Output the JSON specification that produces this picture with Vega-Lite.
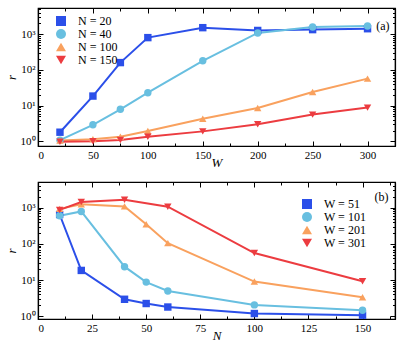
{
  "$schema": "https://vega.github.io/schema/vega-lite/v6.json",
  "background": "white",
  "padding": {"left": 4, "top": 6, "right": 23, "bottom": 1},
  "spacing": 10,
  "config": {
    "font": "Liberation Serif",
    "view": {"stroke": "black", "strokeWidth": 1.2},
    "axis": {"grid": false, "domainColor": "black", "domainWidth": 1.2, "tickColor": "black", "labelColor": "black", "labelFont": "Liberation Serif", "labelFontSize": 11, "titleFont": "Liberation Serif", "titleFontStyle": "italic", "titleFontWeight": "normal", "titleFontSize": 13, "titleColor": "black"},
    "legend": {"labelFont": "Liberation Serif", "labelFontSize": 12, "labelColor": "black"}
  },
  "datasets": {
    "a": [
      {"s": "N = 20", "W": 20, "r": 1.8}, {"s": "N = 20", "W": 50, "r": 18.5}, {"s": "N = 20", "W": 75, "r": 160}, {"s": "N = 20", "W": 100, "r": 800}, {"s": "N = 20", "W": 150, "r": 1520}, {"s": "N = 20", "W": 200, "r": 1270}, {"s": "N = 20", "W": 250, "r": 1340}, {"s": "N = 20", "W": 300, "r": 1420},
      {"s": "N = 40", "W": 20, "r": 1.08}, {"s": "N = 40", "W": 50, "r": 2.9}, {"s": "N = 40", "W": 75, "r": 7.9}, {"s": "N = 40", "W": 100, "r": 23}, {"s": "N = 40", "W": 150, "r": 180}, {"s": "N = 40", "W": 200, "r": 1080}, {"s": "N = 40", "W": 250, "r": 1590}, {"s": "N = 40", "W": 300, "r": 1700},
      {"s": "N = 100", "W": 20, "r": 1.05}, {"s": "N = 100", "W": 50, "r": 1.15}, {"s": "N = 100", "W": 75, "r": 1.35}, {"s": "N = 100", "W": 100, "r": 1.95}, {"s": "N = 100", "W": 150, "r": 4.3}, {"s": "N = 100", "W": 200, "r": 8.6}, {"s": "N = 100", "W": 250, "r": 24}, {"s": "N = 100", "W": 300, "r": 57},
      {"s": "N = 150", "W": 20, "r": 0.97}, {"s": "N = 150", "W": 50, "r": 1.0}, {"s": "N = 150", "W": 75, "r": 1.09}, {"s": "N = 150", "W": 100, "r": 1.35}, {"s": "N = 150", "W": 150, "r": 1.9}, {"s": "N = 150", "W": 200, "r": 3.0}, {"s": "N = 150", "W": 250, "r": 5.6}, {"s": "N = 150", "W": 300, "r": 8.8}
    ],
    "b": [
      {"s": "W = 51", "N": 10, "r": 650}, {"s": "W = 51", "N": 20, "r": 18.5}, {"s": "W = 51", "N": 40, "r": 2.95}, {"s": "W = 51", "N": 50, "r": 2.25}, {"s": "W = 51", "N": 60, "r": 1.8}, {"s": "W = 51", "N": 100, "r": 1.19}, {"s": "W = 51", "N": 150, "r": 1.07},
      {"s": "W = 101", "N": 10, "r": 600}, {"s": "W = 101", "N": 20, "r": 790}, {"s": "W = 101", "N": 40, "r": 23.5}, {"s": "W = 101", "N": 50, "r": 8.8}, {"s": "W = 101", "N": 60, "r": 5.0}, {"s": "W = 101", "N": 100, "r": 2.06}, {"s": "W = 101", "N": 150, "r": 1.47},
      {"s": "W = 201", "N": 10, "r": 930}, {"s": "W = 201", "N": 20, "r": 1240}, {"s": "W = 201", "N": 40, "r": 1090}, {"s": "W = 201", "N": 50, "r": 350}, {"s": "W = 201", "N": 60, "r": 105}, {"s": "W = 201", "N": 100, "r": 9.1}, {"s": "W = 201", "N": 150, "r": 3.35},
      {"s": "W = 301", "N": 10, "r": 870}, {"s": "W = 301", "N": 20, "r": 1440}, {"s": "W = 301", "N": 40, "r": 1660}, {"s": "W = 301", "N": 60, "r": 1070}, {"s": "W = 301", "N": 100, "r": 56}, {"s": "W = 301", "N": 150, "r": 9.3}
    ]
  },
  "vconcat": [
    {
      "width": 357, "height": 138,
      "data": {"name": "a"},
      "resolve": {"axis": {"x": "independent", "y": "independent"}, "scale": {"color": "independent", "shape": "independent", "stroke": "independent"}},
      "layer": [
        {
          "mark": {"type": "line", "strokeWidth": 2},
          "encoding": {
            "x": {"field": "W", "type": "quantitative", "scale": {"domain": [0, 325], "nice": false, "zero": false}, "title": "W",
              "axis": {"orient": "bottom", "values": [0, 25, 50, 75, 100, 125, 150, 175, 200, 225, 250, 275, 300, 325], "labelExpr": "datum.value % 50 == 0 ? datum.label : ''", "tickSize": {"condition": {"test": "datum.value % 50 == 0", "value": -5}, "value": -3}, "labelPadding": 8, "titlePadding": -4}},
            "y": {"field": "r", "type": "quantitative", "scale": {"type": "log", "domain": [0.74, 5400], "nice": false}, "title": "r",
              "axis": {"orient": "left", "values": [1, 2, 3, 4, 5, 6, 7, 8, 9, 10, 20, 30, 40, 50, 60, 70, 80, 90, 100, 200, 300, 400, 500, 600, 700, 800, 900, 1000, 2000, 3000, 4000, 5000], "labelExpr": "datum.value == 1 ? '10⁰' : datum.value == 10 ? '10¹' : datum.value == 100 ? '10²' : datum.value == 1000 ? '10³' : ''", "tickSize": {"condition": {"test": "indexof([1,10,100,1000], datum.value) >= 0", "value": -5}, "value": -2.5}, "labelPadding": 8, "titlePadding": 2}},
            "stroke": {"field": "s", "type": "nominal", "scale": {"domain": ["N = 20", "N = 40", "N = 100", "N = 150"], "range": ["#2b4fe9", "#68bfe0", "#f9a15e", "#ec3c40"]}, "legend": null}
          }
        },
        {
          "mark": {"type": "point", "filled": true, "opacity": 1, "size": 55},
          "encoding": {
            "x": {"field": "W", "type": "quantitative", "axis": {"orient": "top", "values": [0, 25, 50, 75, 100, 125, 150, 175, 200, 225, 250, 275, 300, 325], "labels": false, "title": null, "tickSize": {"condition": {"test": "datum.value % 50 == 0", "value": -5}, "value": -3}}},
            "y": {"field": "r", "type": "quantitative", "axis": {"orient": "right", "values": [1, 2, 3, 4, 5, 6, 7, 8, 9, 10, 20, 30, 40, 50, 60, 70, 80, 90, 100, 200, 300, 400, 500, 600, 700, 800, 900, 1000, 2000, 3000, 4000, 5000], "labels": false, "title": null, "tickSize": {"condition": {"test": "indexof([1,10,100,1000], datum.value) >= 0", "value": -5}, "value": -2.5}}},
            "color": {"field": "s", "type": "nominal", "scale": {"domain": ["N = 20", "N = 40", "N = 100", "N = 150"], "range": ["#2b4fe9", "#68bfe0", "#f9a15e", "#ec3c40"]},
              "legend": {"title": null, "orient": "top-left", "offset": 7, "padding": 0, "symbolOffset": 10, "labelOffset": 11, "rowPadding": 1, "encode": {"symbols": {"size": {"value": 64}}}}},
            "shape": {"field": "s", "type": "nominal", "scale": {"domain": ["N = 20", "N = 40", "N = 100", "N = 150"], "range": ["square", "circle", "triangle-up", "triangle-down"]},
              "legend": {"title": null, "orient": "top-left", "offset": 7, "padding": 0, "symbolOffset": 10, "labelOffset": 11, "rowPadding": 1, "encode": {"symbols": {"size": {"value": 64}}}}}
          }
        },
        {
          "data": {"values": [{"W": 320, "r": 1700, "t": "(a)"}]},
          "mark": {"type": "text", "align": "right", "fontSize": 12, "font": "Liberation Serif", "color": "black"},
          "encoding": {"x": {"field": "W", "type": "quantitative", "axis": null}, "y": {"field": "r", "type": "quantitative", "axis": null}, "text": {"field": "t"}}
        }
      ]
    },
    {
      "width": 357, "height": 137,
      "data": {"name": "b"},
      "resolve": {"axis": {"x": "independent", "y": "independent"}, "scale": {"color": "independent", "shape": "independent", "stroke": "independent"}},
      "layer": [
        {
          "mark": {"type": "line", "strokeWidth": 2},
          "encoding": {
            "x": {"field": "N", "type": "quantitative", "scale": {"domain": [0, 165], "nice": false, "zero": false}, "title": "N",
              "axis": {"orient": "bottom", "values": [0, 12.5, 25, 37.5, 50, 62.5, 75, 87.5, 100, 112.5, 125, 137.5, 150, 162.5], "labelExpr": "datum.value % 25 == 0 ? datum.label : ''", "tickSize": {"condition": {"test": "datum.value % 25 == 0", "value": -5}, "value": -3}, "labelPadding": 8, "titlePadding": -4}},
            "y": {"field": "r", "type": "quantitative", "scale": {"type": "log", "domain": [0.84, 5150], "nice": false}, "title": "r",
              "axis": {"orient": "left", "values": [1, 2, 3, 4, 5, 6, 7, 8, 9, 10, 20, 30, 40, 50, 60, 70, 80, 90, 100, 200, 300, 400, 500, 600, 700, 800, 900, 1000, 2000, 3000, 4000, 5000], "labelExpr": "datum.value == 1 ? '10⁰' : datum.value == 10 ? '10¹' : datum.value == 100 ? '10²' : datum.value == 1000 ? '10³' : ''", "tickSize": {"condition": {"test": "indexof([1,10,100,1000], datum.value) >= 0", "value": -5}, "value": -2.5}, "labelPadding": 8, "titlePadding": 2}},
            "stroke": {"field": "s", "type": "nominal", "scale": {"domain": ["W = 51", "W = 101", "W = 201", "W = 301"], "range": ["#2b4fe9", "#68bfe0", "#f9a15e", "#ec3c40"]}, "legend": null}
          }
        },
        {
          "mark": {"type": "point", "filled": true, "opacity": 1, "size": 55},
          "encoding": {
            "x": {"field": "N", "type": "quantitative", "axis": {"orient": "top", "values": [0, 12.5, 25, 37.5, 50, 62.5, 75, 87.5, 100, 112.5, 125, 137.5, 150, 162.5], "labels": false, "title": null, "tickSize": {"condition": {"test": "datum.value % 25 == 0", "value": -5}, "value": -3}}},
            "y": {"field": "r", "type": "quantitative", "axis": {"orient": "right", "values": [1, 2, 3, 4, 5, 6, 7, 8, 9, 10, 20, 30, 40, 50, 60, 70, 80, 90, 100, 200, 300, 400, 500, 600, 700, 800, 900, 1000, 2000, 3000, 4000, 5000], "labels": false, "title": null, "tickSize": {"condition": {"test": "indexof([1,10,100,1000], datum.value) >= 0", "value": -5}, "value": -2.5}}},
            "color": {"field": "s", "type": "nominal", "scale": {"domain": ["W = 51", "W = 101", "W = 201", "W = 301"], "range": ["#2b4fe9", "#68bfe0", "#f9a15e", "#ec3c40"]},
              "legend": {"title": null, "orient": "none", "legendX": 250, "legendY": 16, "padding": 0, "symbolOffset": 13, "labelOffset": 11, "rowPadding": 1, "encode": {"symbols": {"size": {"value": 64}}}}},
            "shape": {"field": "s", "type": "nominal", "scale": {"domain": ["W = 51", "W = 101", "W = 201", "W = 301"], "range": ["square", "circle", "triangle-up", "triangle-down"]},
              "legend": {"title": null, "orient": "none", "legendX": 250, "legendY": 16, "padding": 0, "symbolOffset": 13, "labelOffset": 11, "rowPadding": 1, "encode": {"symbols": {"size": {"value": 64}}}}}
          }
        },
        {
          "data": {"values": [{"N": 162, "r": 2000, "t": "(b)"}]},
          "mark": {"type": "text", "align": "right", "fontSize": 12, "font": "Liberation Serif", "color": "black"},
          "encoding": {"x": {"field": "N", "type": "quantitative", "axis": null}, "y": {"field": "r", "type": "quantitative", "axis": null}, "text": {"field": "t"}}
        }
      ]
    }
  ]
}
